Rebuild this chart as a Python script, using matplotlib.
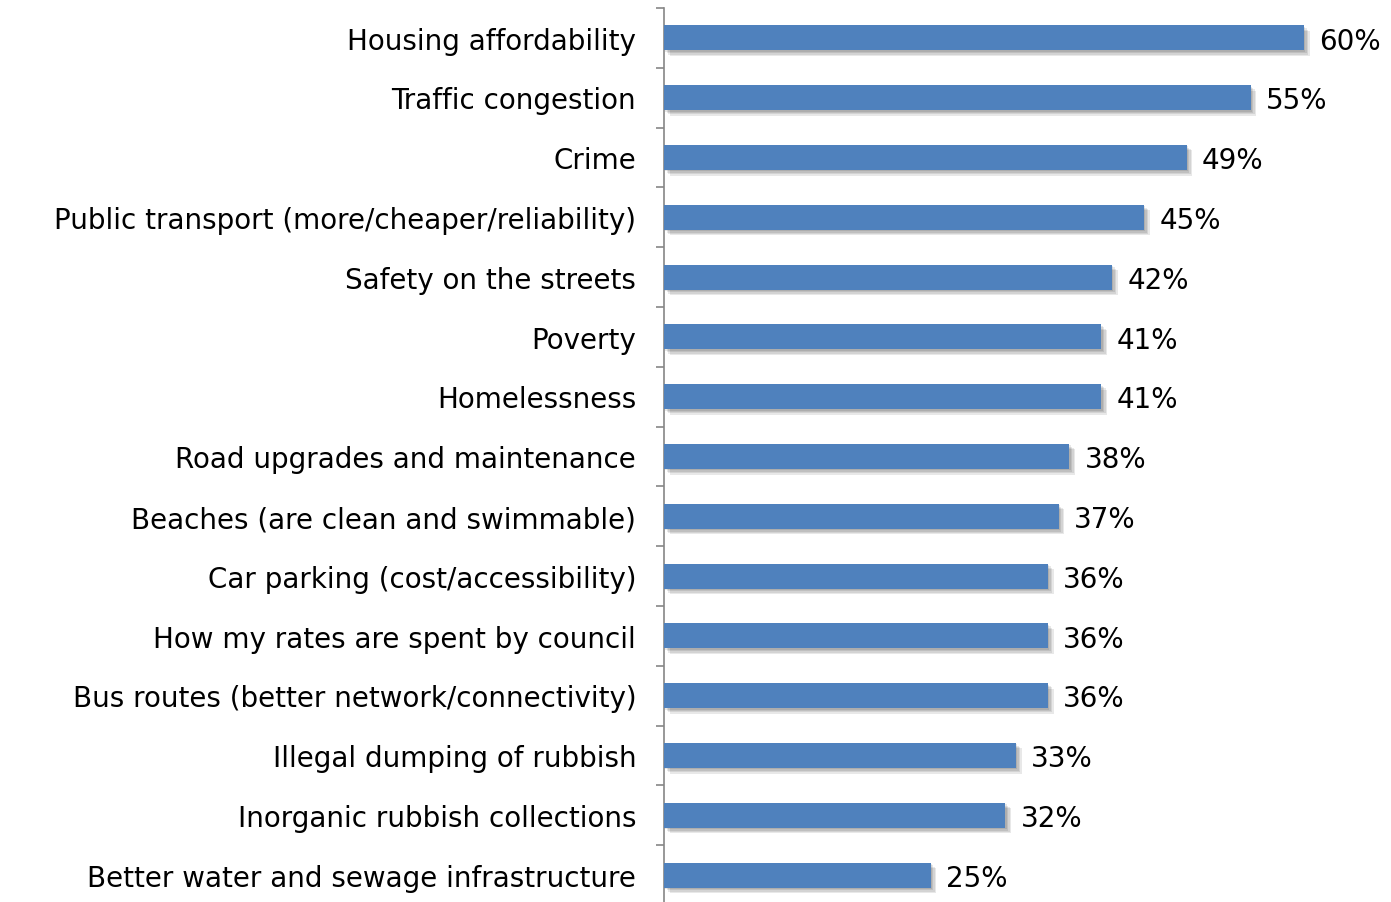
import numpy as np
import matplotlib
matplotlib.use("Agg")
import matplotlib.pyplot as plt
import matplotlib.patheffects as pe

# Issues ranked by share of respondents
issues = [
    'Housing affordability',
    'Traffic congestion',
    'Crime',
    'Public transport (more/cheaper/reliability)',
    'Safety on the streets',
    'Poverty',
    'Homelessness',
    'Road upgrades and maintenance',
    'Beaches (are clean and swimmable)',
    'Car parking (cost/accessibility)',
    'How my rates are spent by council',
    'Bus routes (better network/connectivity)',
    'Illegal dumping of rubbish',
    'Inorganic rubbish collections',
    'Better water and sewage infrastructure',
]
pct = [60, 55, 49, 45, 42, 41, 41, 38, 37, 36, 36, 36, 33, 32, 25]

bar_color = '#4F81BD'
axis_color = '#868686'
fs = 20

fig = plt.figure(figsize=(13.91, 9.03), dpi=100)
ax = fig.add_axes([664 / 1391, -3 / 903, 1 - 664 / 1391, 897 / 903])

y = np.arange(len(issues))
bars = ax.barh(y, pct, height=0.42, color=bar_color, zorder=3)
# soft drop shadow built from a few stacked offsets
shadow = [pe.SimplePatchShadow(offset=(d, -d), shadow_rgbFace='#000000', alpha=0.09)
          for d in (1, 2, 3, 4)]
for b in bars:
    b.set_path_effects(shadow + [pe.Normal()])

# category names left of the axis, values right of each bar
for yi, name, v in zip(y, issues, pct):
    ax.annotate(name, xy=(0, yi), xycoords=('axes fraction', 'data'),
                xytext=(-20, -2), textcoords='offset points',
                ha='right', va='center', fontsize=fs, annotation_clip=False)
    ax.annotate(f'{v}%', xy=(v, yi), xytext=(11, -2), textcoords='offset points',
                ha='left', va='center', fontsize=fs, annotation_clip=False)

ax.set_ylim(len(issues) - 0.5, -0.5)
ax.set_xlim(0, (1391 - 664) / (640 / 60))

ax.set_yticks([])
ax.set_yticks(np.arange(-0.5, len(issues), 1), minor=True)
ax.tick_params(axis='y', which='minor', length=6, width=1.2, color=axis_color, direction='out')

ax.set_xticks([])
for side in ['top', 'right', 'bottom']:
    ax.spines[side].set_visible(False)
ax.spines['left'].set_color(axis_color)
ax.spines['left'].set_linewidth(1.2)

fig.savefig('out.png', dpi=100)
